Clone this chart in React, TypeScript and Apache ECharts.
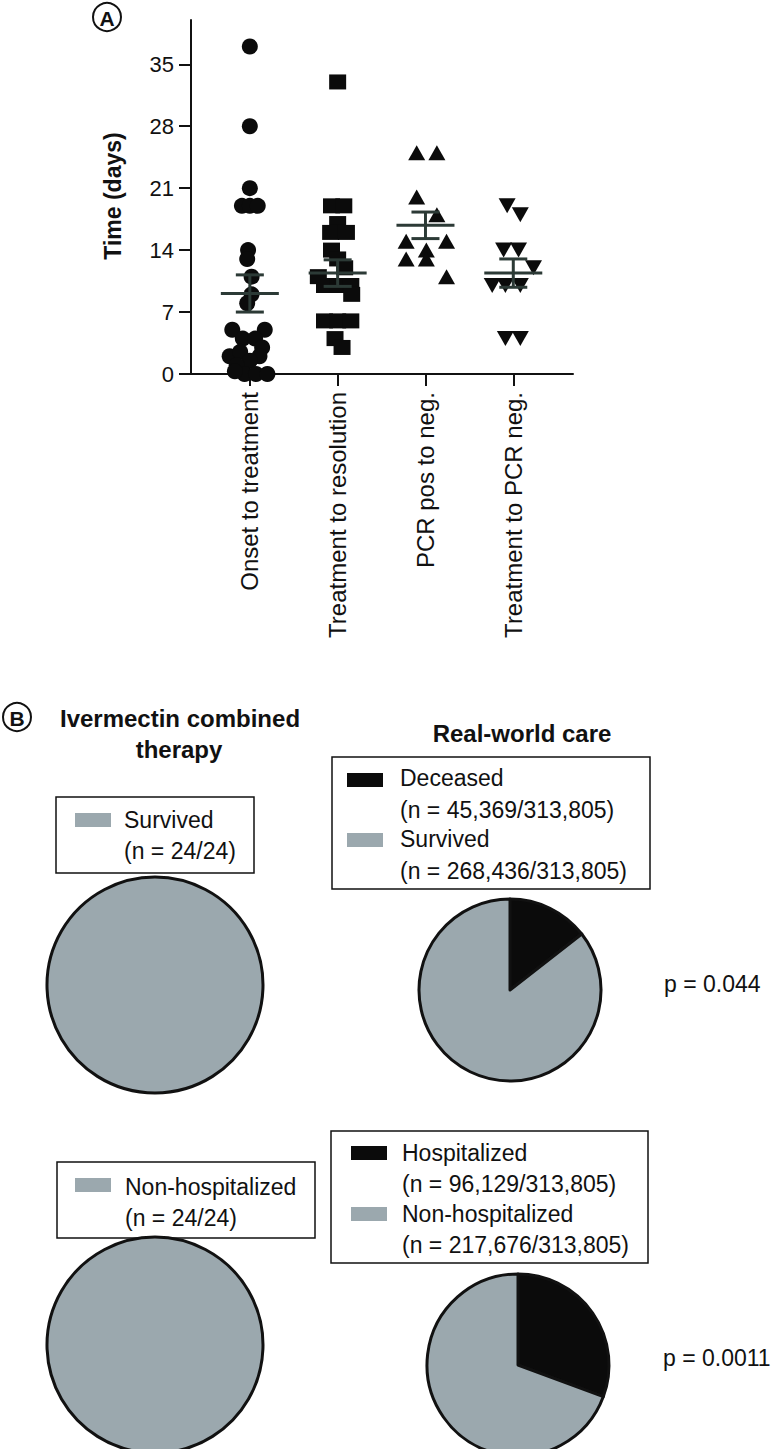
import React, { useEffect, useRef } from "react";
import * as echarts from "echarts";

const categories = ["Onset to treatment", "Treatment to resolution", "PCR pos to neg.", "Treatment to PCR neg."];
const yTicks = [0, 7, 14, 21, 28, 35];

// [jitter offset (category units), days]
const onsetToTreatment = [
  [0, 37], [0, 28], [0, 21], [-0.09, 19], [0, 19], [0.09, 19], [-0.02, 14], [-0.03, 13], [0.02, 11],
  [0.02, 9], [-0.03, 8], [-0.2, 5], [0.17, 5], [-0.08, 4], [0.06, 4], [0.14, 3], [-0.23, 2], [-0.11, 2.5],
  [0.11, 2], [0, 1.5], [-0.15, 1], [-0.06, 0], [0.07, 0], [0.2, 0], [-0.17, 0.3],
];
const treatmentToResolution = [
  [0, 33], [-0.07, 19], [0.07, 19], [0, 17], [-0.08, 16], [0.1, 16], [-0.07, 14], [0, 13], [0.08, 12],
  [-0.22, 11], [-0.15, 10], [0, 10], [0.15, 10], [0.16, 9], [-0.15, 6], [0, 6], [0.15, 6], [-0.03, 4], [0.05, 3],
];
const pcrPosToNeg = [
  [-0.1, 25], [0.13, 25], [-0.1, 20], [0.13, 18], [-0.22, 15], [0.24, 15], [0.01, 14], [-0.22, 13], [0.01, 13], [0.24, 11],
];
const treatmentToPcrNeg = [
  [-0.07, 19], [0.08, 18], [-0.11, 14], [0.06, 14], [0.23, 12], [-0.24, 10], [-0.09, 10], [0.08, 10], [-0.09, 4], [0.08, 4],
];
const groupMeans = [9.1, 11.4, 16.8, 11.4];
const groupSems = [2.1, 1.5, 1.5, 1.6];

const total = 313805;
const realWorldSurvival = [45369, 268436]; // deceased, survived
const realWorldHosp = [96129, 217676]; // hospitalized, non-hospitalized
const ivermectinN = 24;
const ivermectinSurvived = 24;
const ivermectinNonHosp = 24;
const pValues = ["0.044", "0.0011"];

const BLACK = "#0b0b0b";
const GRAY = "#9ba8ae";
const FONT = '"Liberation Sans", Arial, Helvetica, sans-serif';

const fmt = (n: number) => n.toLocaleString("en-US");

function toPoints(arr: number[][], idx: number) {
  return arr.map(([j, v]) => [idx + j, v]);
}

function txt(x: number, y: number, text: string, size = 23, weight = "normal", align = "left") {
  return {
    type: "text",
    x,
    y,
    silent: true,
    style: { text, fontSize: size, fontWeight: weight, fontFamily: FONT, fill: "#111", align, verticalAlign: "middle" },
  };
}

function box(x: number, y: number, w: number, h: number) {
  return { type: "rect", shape: { x, y, width: w, height: h }, style: { fill: "none", stroke: "#111", lineWidth: 1.5 }, silent: true };
}

function swatch(x: number, y: number, color: string) {
  return { type: "rect", shape: { x, y, width: 36, height: 14 }, style: { fill: color }, silent: true };
}

function circleLabel(cx: number, cy: number, letter: string) {
  return [
    { type: "circle", shape: { cx, cy, r: 14 }, style: { fill: "#fff", stroke: "#111", lineWidth: 2 }, silent: true },
    txt(cx, cy + 1, letter, 21, "bold", "center"),
  ];
}

export default function App() {
  const ref = useRef<HTMLDivElement>(null);
  useEffect(() => {
    document.body.style.margin = "0";
    if (!ref.current) return;
    const chart = echarts.init(ref.current, null, { renderer: "svg" });

    const scatterBase = { type: "scatter", itemStyle: { color: BLACK, opacity: 1 }, silent: true, z: 3 };

    const option: any = {
      animation: false,
      grid: { left: 191, top: 20, width: 382, height: 354 },
      xAxis: {
        type: "value",
        min: -0.67,
        max: 3.68,
        splitLine: { show: false },
        axisLine: { lineStyle: { color: "#111", width: 2 } },
        axisTick: { show: true, length: 12, lineStyle: { width: 2, color: "#111" }, customValues: [0, 1, 2, 3] },
        axisLabel: {
          customValues: [0, 1, 2, 3],
          formatter: (v: number) => categories[Math.round(v)],
          rotate: 90,
          margin: 18,
          fontSize: 24,
          fontFamily: FONT,
          color: "#111",
        },
      },
      yAxis: {
        type: "value",
        min: 0,
        max: 40,
        splitLine: { show: false },
        axisLine: { show: true, onZero: false, lineStyle: { color: "#111", width: 2 } },
        axisTick: { show: true, length: 12, lineStyle: { width: 2, color: "#111" }, customValues: yTicks },
        axisLabel: { customValues: yTicks, margin: 17, fontSize: 22, fontFamily: FONT, color: "#111" },
      },
      series: [
        { ...scatterBase, symbol: "circle", symbolSize: 16, data: toPoints(onsetToTreatment, 0) },
        { ...scatterBase, symbol: "rect", symbolSize: [17, 15], data: toPoints(treatmentToResolution, 1) },
        { ...scatterBase, symbol: "triangle", symbolSize: [17, 15], data: toPoints(pcrPosToNeg, 2) },
        { ...scatterBase, symbol: "triangle", symbolRotate: 180, symbolSize: [17, 15], data: toPoints(treatmentToPcrNeg, 3) },
        {
          type: "custom",
          silent: true,
          z: 5,
          data: groupMeans.map((m, i) => [i, m, groupSems[i]]),
          renderItem: (_p: any, api: any) => {
            const x = api.value(0);
            const m = api.value(1);
            const s = api.value(2);
            const c = api.coord([x, m]);
            const t = api.coord([x, m + s]);
            const b = api.coord([x, m - s]);
            const st = { stroke: "#2c3a36", lineWidth: 3 };
            return {
              type: "group",
              children: [
                { type: "line", shape: { x1: c[0] - 29, y1: c[1], x2: c[0] + 29, y2: c[1] }, style: st },
                { type: "line", shape: { x1: c[0], y1: t[1], x2: c[0], y2: b[1] }, style: st },
                { type: "line", shape: { x1: c[0] - 14, y1: t[1], x2: c[0] + 14, y2: t[1] }, style: st },
                { type: "line", shape: { x1: c[0] - 14, y1: b[1], x2: c[0] + 14, y2: b[1] }, style: st },
              ],
            };
          },
        },
        {
          type: "pie",
          silent: true,
          center: [155, 985],
          radius: 108,
          label: { show: false },
          itemStyle: { borderColor: "#111", borderWidth: 3 },
          data: [{ name: "Survived", value: ivermectinSurvived, itemStyle: { color: GRAY } }],
        },
        {
          type: "pie",
          silent: true,
          center: [510, 990],
          radius: 91,
          label: { show: false },
          itemStyle: { borderColor: "#111", borderWidth: 3 },
          data: [
            { name: "Deceased", value: realWorldSurvival[0], itemStyle: { color: BLACK } },
            { name: "Survived", value: realWorldSurvival[1], itemStyle: { color: GRAY } },
          ],
        },
        {
          type: "pie",
          silent: true,
          center: [155, 1345],
          radius: 108,
          label: { show: false },
          itemStyle: { borderColor: "#111", borderWidth: 3 },
          data: [{ name: "Non-hospitalized", value: ivermectinNonHosp, itemStyle: { color: GRAY } }],
        },
        {
          type: "pie",
          silent: true,
          center: [518, 1365],
          radius: 91,
          label: { show: false },
          itemStyle: { borderColor: "#111", borderWidth: 3 },
          data: [
            { name: "Hospitalized", value: realWorldHosp[0], itemStyle: { color: BLACK } },
            { name: "Non-hospitalized", value: realWorldHosp[1], itemStyle: { color: GRAY } },
          ],
        },
      ],
      graphic: [
        ...circleLabel(107, 17, "A"),
        { ...txt(113, 196, "Time (days)", 23, "bold", "center"), rotation: Math.PI / 2 },
        ...circleLabel(17, 717, "B"),
        txt(180, 718, "Ivermectin combined", 24, "bold", "center"),
        txt(179, 749, "therapy", 24, "bold", "center"),
        txt(522, 733, "Real-world care", 24, "bold", "center"),
        // legend 1
        box(56, 797, 198, 76),
        swatch(75, 813, GRAY),
        txt(124, 820, "Survived"),
        txt(124, 851, `(n = ${ivermectinSurvived}/${ivermectinN})`),
        // legend 2
        box(332, 757, 318, 132),
        swatch(347, 773, BLACK),
        txt(400, 778, "Deceased"),
        txt(400, 810, `(n = ${fmt(realWorldSurvival[0])}/${fmt(total)})`),
        swatch(347, 833, GRAY),
        txt(400, 839, "Survived"),
        txt(400, 871, `(n = ${fmt(realWorldSurvival[1])}/${fmt(total)})`),
        txt(664, 984, `p = ${pValues[0]}`),
        // legend 3
        box(57, 1162, 258, 76),
        swatch(75, 1178, GRAY),
        txt(125, 1187, "Non-hospitalized"),
        txt(125, 1218, `(n = ${ivermectinNonHosp}/${ivermectinN})`),
        // legend 4
        box(331, 1131, 317, 132),
        swatch(351, 1146, BLACK),
        txt(402, 1153, "Hospitalized"),
        txt(402, 1184, `(n = ${fmt(realWorldHosp[0])}/${fmt(total)})`),
        swatch(351, 1207, GRAY),
        txt(402, 1214, "Non-hospitalized"),
        txt(402, 1245, `(n = ${fmt(realWorldHosp[1])}/${fmt(total)})`),
        txt(663, 1358, `p = ${pValues[1]}`),
      ],
    };
    chart.setOption(option);
    return () => chart.dispose();
  }, []);
  return <div ref={ref} style={{ width: 777, height: 1449 }} />;
}
